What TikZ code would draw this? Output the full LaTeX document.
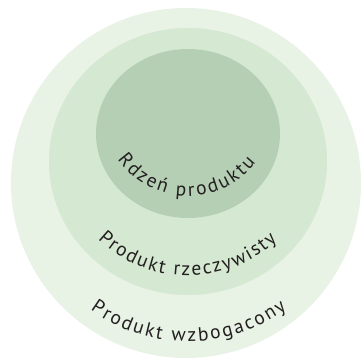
\documentclass[tikz,border=0pt]{standalone}
\usepackage{fontspec}
\setmainfont{PT Sans}
\newfontfamily\ringfont{PT Sans}
\usetikzlibrary{decorations.text}

\definecolor{ringOuter}{RGB}{232,242,229}
\definecolor{ringMiddle}{RGB}{212,232,210}
\definecolor{ringCore}{RGB}{181,207,181}
\definecolor{ringText}{RGB}{35,31,32}

\begin{document}
\begin{tikzpicture}[x=1pt,y=1pt,
	ring/.style={draw=none},
	ringlabel/.style={decorate,decoration={text along path,text align=fit to path,
		text color=ringText,text={|\ringfont\fontsize{19.5}{21}\selectfont|#1}}}]
	\useasboundingbox (0,0) rectangle (361,359);

	\coordinate (OUT) at (186,176);
	\coordinate (MID) at (188,197.5);
	\coordinate (CORE) at (188,225.5);

	\fill[ring,ringOuter]  (OUT)  circle[radius=175];
	\fill[ring,ringMiddle] (MID)  ellipse[x radius=139,y radius=133.5];
	\fill[ring,ringCore]   (CORE) ellipse[x radius=92,y radius=84.5];

	% labels curved under each ring
	\coordinate (L1) at (188,249);
	\coordinate (L2) at (188,214);
	\coordinate (L3) at (188,183.5);
	\path[ringlabel={Rdzeń produktu}] (L1) ++(215:86) arc[start angle=215,end angle=322,radius=86];
	\path[ringlabel={Produkt rzeczywisty}] (L2) ++(226.4:130.5) arc[start angle=226.4,end angle=313,radius=130.5];
	\path[ringlabel={Produkt wzbogacony}] (L3) ++(234:166) arc[start angle=234,end angle=306.5,radius=166];
\end{tikzpicture}
\end{document}
